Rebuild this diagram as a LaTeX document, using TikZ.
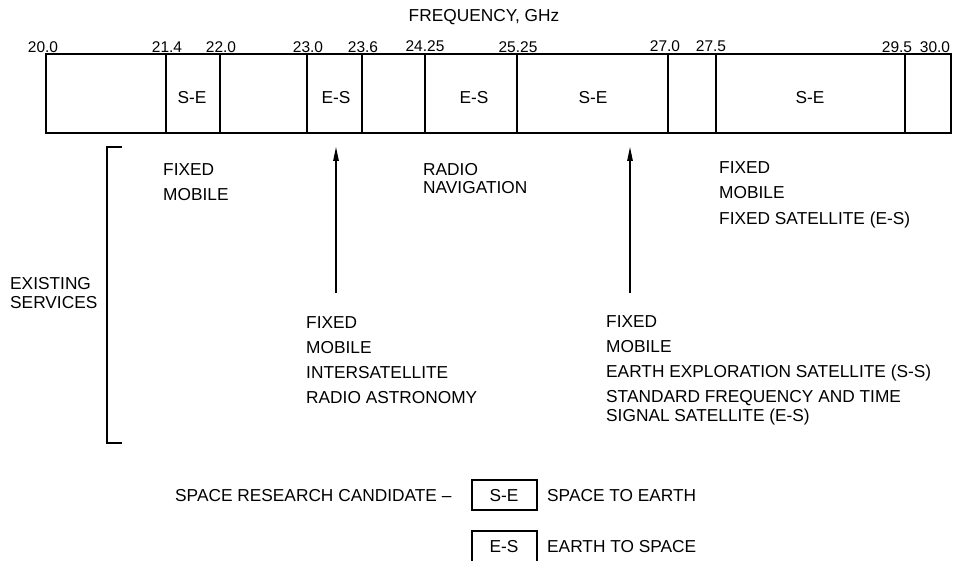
\documentclass[tikz,border=0pt]{standalone}
\usepackage{fontspec}
\setmainfont{Liberation Sans}
\usetikzlibrary{arrows.meta}
\tikzset{
  lbl/.style={anchor=west,inner sep=0pt,font=\fontsize{17.3}{19}\selectfont,text height=12.4pt,text depth=0pt},
  ctr/.style={anchor=center,inner sep=0pt,font=\fontsize{17.3}{19}\selectfont,text height=12.4pt,text depth=0pt},
  num/.style={anchor=center,inner sep=0pt,font=\fontsize{15.5}{17}\selectfont,text height=11.1pt,text depth=0pt},
  barline/.style={line width=1.6pt},
  arr/.style={line width=1.2pt,-{Triangle[length=14pt,width=5.5pt]}},
  brk/.style={line width=1.5pt},
}
\begin{document}
\begin{tikzpicture}[x=1pt,y=-1pt]
\useasboundingbox (0,0) rectangle (971,561);
% title
\node[ctr] (title) at (484,15) {FREQUENCY, GHz};
% bar
\draw[barline] (46,54) rectangle (951,133);
\foreach \xx in {166,220,307,362,425,517,668,716,905}
  \draw[barline] (\xx,54) -- (\xx,133);
% frequency numbers
\node[num] (f200) at (43,47) {20.0};
\node[num] (f214) at (167,47) {21.4};
\node[num] (f220) at (221,47) {22.0};
\node[num] (f230) at (308,47) {23.0};
\node[num] (f236) at (363,47) {23.6};
\node[num] (f2425) at (425,46) {24.25};
\node[num] (f2525) at (518,47) {25.25};
\node[num] (f270) at (665,46) {27.0};
\node[num] (f275) at (711,46) {27.5};
\node[num] (f295) at (897,47) {29.5};
\node[num] (f300) at (935,47) {30.0};
% band labels
\node[ctr] (b1) at (192,97) {S-E};
\node[ctr] (b2) at (336,97) {E-S};
\node[ctr] (b3) at (474,97) {E-S};
\node[ctr] (b4) at (593,97) {S-E};
\node[ctr] (b5) at (810,97) {S-E};
% bracket
\draw[brk] (122,147) -- (107,147) -- (107,443) -- (122,443);
\node[lbl] (ex1) at (10,283) {EXISTING};
\node[lbl] (ex2) at (10,302) {SERVICES};
% groups
\node[lbl] (g1a) at (163,169) {FIXED};
\node[lbl] (g1b) at (163,194) {MOBILE};
\node[lbl] (g2a) at (423,169) {RADIO};
\node[lbl] (g2b) at (423,187) {NAVIGATION};
\node[lbl] (g3a) at (719,167) {FIXED};
\node[lbl] (g3b) at (719,192) {MOBILE};
\node[lbl] (g3c) at (719,218) {FIXED SATELLITE (E-S)};
\node[lbl] (g4a) at (306,322) {FIXED};
\node[lbl] (g4b) at (306,347) {MOBILE};
\node[lbl] (g4c) at (306,372) {INTERSATELLITE};
\node[lbl] (g4d) at (306,397) {RADIO ASTRONOMY};
\node[lbl] (g5a) at (606,321) {FIXED};
\node[lbl] (g5b) at (606,346) {MOBILE};
\node[lbl] (g5c) at (606,371) {EARTH EXPLORATION SATELLITE (S-S)};
\node[lbl] (g5d) at (606,396) {STANDARD FREQUENCY AND TIME};
\node[lbl] (g5e) at (606,415) {SIGNAL SATELLITE (E-S)};
% arrows
\coordinate (a1b) at (336,293);
\coordinate (a1t) at (336,147);
\coordinate (a2b) at (630,293);
\coordinate (a2t) at (630,147);
\draw[arr] (a1b) -- (a1t);
\draw[arr] (a2b) -- (a2t);
% legend
\node[lbl] (leg) at (175,495) {SPACE RESEARCH CANDIDATE \textendash};
\draw[line width=1.3pt] (472,480) rectangle (537,510);
\node[ctr] (lse) at (504,495) {S-E};
\node[lbl] (lse2) at (547,495) {SPACE TO EARTH};
\draw[line width=1.3pt] (472,561) -- (472,531) -- (537,531) -- (537,561);
\node[ctr] (les) at (504,546) {E-S};
\node[lbl] (les2) at (547,546) {EARTH TO SPACE};
\end{tikzpicture}
\end{document}
